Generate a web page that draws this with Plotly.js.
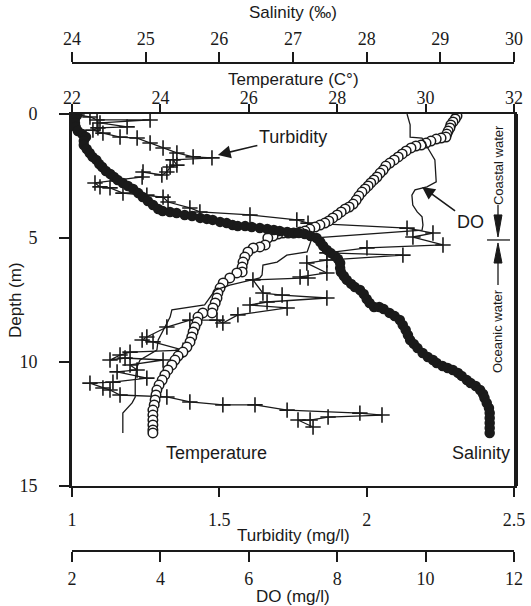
<!DOCTYPE html>
<html>
<head>
<meta charset="utf-8">
<script src="https://cdn.plot.ly/plotly-3.0.1.min.js"></script>
<style>html,body{margin:0;padding:0;background:#fff;}#chart{width:531px;height:606px;}</style>
</head>
<body>
<div id="chart"></div>
<script>
// ---- Temperature (°C) profile ----
const temperature = [30.71,30.67,30.62,30.57,30.55,30.51,30.48,30.46,
  30.35,30.24,30.12,30.01,29.90,29.78,29.67,29.56,29.47,29.38,29.29,29.19,29.10,29.04,28.97,28.90,28.83,28.76,28.70,28.63,28.56,28.49,28.43,28.36,28.27,28.18,28.09,28.00,27.90,27.81,27.72,27.61,27.50,27.38,27.27,27.16,27.02,26.89,26.77,26.66,26.55,26.43,
  26.37,26.25,26.10,25.98,25.91,25.87,25.85,25.85,25.73,25.57,25.42,25.35,25.30,25.28,25.24,25.19,25.17,24.96,24.85,24.83,24.78,24.74,24.71,24.67,24.60,24.51,24.40,24.33,24.26,24.17,24.10,24.04,23.97,23.92,23.90,23.88,23.86,23.83,23.83,23.83,23.83,23.83,23.83];
const depthTemp = [0.08,0.20,0.32,0.44,0.56,0.69,0.81,0.93,
  0.97,1.01,1.09,1.17,1.25,1.29,1.37,1.49,1.61,1.73,1.85,1.98,2.10,2.26,2.38,2.54,2.66,2.78,2.90,3.02,3.15,3.31,3.47,3.63,3.75,3.83,3.95,4.07,4.19,4.31,4.40,4.48,4.56,4.64,4.72,4.76,4.80,4.80,4.80,4.84,4.92,5.00,
  5.28,5.36,5.40,5.56,5.77,5.97,6.17,6.37,6.41,6.61,6.81,7.02,7.22,7.42,7.62,7.82,8.02,8.02,8.19,8.39,8.59,8.79,8.99,9.19,9.40,9.60,9.76,9.92,10.12,10.32,10.52,10.73,10.93,11.13,11.33,11.53,11.73,11.94,12.14,12.34,12.54,12.74,12.86];

// ---- Salinity (‰) profile ----
const salinity = [24.07,24.04,24.04,24.05,24.08,24.14,24.19,24.16,24.16,24.20,24.24,24.28,24.33,24.37,24.41,24.46,24.52,24.57,24.62,24.69,24.76,24.83,24.90,24.96,25.03,25.10,25.17,25.23,25.33,25.42,25.53,25.63,25.74,25.83,25.91,26.01,26.10,26.18,26.25,26.35,26.44,26.55,26.65,26.74,26.82,26.92,27.00,27.08,27.16,27.24,27.32,27.37,27.41,27.46,27.51,27.57,27.61,27.64,27.64,27.65,27.69,27.73,27.79,27.84,27.91,27.96,28.00,28.04,28.10,28.17,28.23,28.31,28.38,28.45,28.49,28.53,28.56,28.59,28.64,28.69,28.76,28.83,28.90,28.95,29.03,29.10,29.17,29.24,29.29,29.36,29.41,29.48,29.54,29.58,29.60,29.63,29.66,29.67,29.67,29.67,29.67,29.67];
const depthSal = [0.04,0.20,0.36,0.52,0.69,0.81,0.93,1.09,1.25,1.41,1.57,1.73,1.85,2.02,2.14,2.30,2.42,2.54,2.66,2.78,2.90,3.02,3.19,3.35,3.51,3.67,3.83,3.91,3.95,3.99,4.07,4.11,4.19,4.23,4.27,4.35,4.40,4.48,4.52,4.52,4.56,4.60,4.64,4.68,4.72,4.76,4.80,4.80,4.84,4.92,5.00,5.16,5.32,5.48,5.60,5.73,5.85,6.01,6.21,6.37,6.53,6.69,6.85,6.98,7.10,7.26,7.46,7.62,7.78,7.78,7.86,8.02,8.15,8.31,8.51,8.71,8.91,9.11,9.27,9.44,9.64,9.80,9.92,10.04,10.16,10.24,10.32,10.44,10.56,10.73,10.85,10.97,11.13,11.29,11.45,11.65,11.85,12.06,12.26,12.46,12.66,12.86];

// ---- Turbidity (mg/l) profile ----
const turbidity = [1.017,1.061,1.085,1.265,1.095,1.187,1.088,1.071,1.105,1.163,1.221,1.265,1.309,1.356,1.411,1.475,1.343,1.356,1.333,1.322,1.305,1.241,1.238,1.078,1.095,1.129,1.173,1.254,1.309,1.326,1.400,1.434,1.604,1.763,1.801,2.137,2.225,2.157,2.259,2.001,1.865,2.123,1.865,1.797,1.865,1.774,1.801,1.614,1.648,1.713,1.865,1.662,1.604,1.730,1.563,1.512,1.492,1.400,1.322,1.254,1.238,1.275,1.377,1.197,1.163,1.129,1.180,1.309,1.197,1.221,1.153,1.254,1.139,1.061,1.105,1.129,1.163,1.322,1.400,1.512,1.621,1.730,1.977,2.052,1.869,1.808,1.767,1.818];
const depthTurb = [0.04,0.12,0.24,0.24,0.36,0.52,0.56,0.65,0.77,0.93,0.97,1.17,1.37,1.57,1.73,1.77,1.85,2.06,2.14,2.34,2.46,2.34,2.54,2.78,2.94,2.98,3.19,3.27,3.35,3.55,3.79,3.95,4.07,4.27,4.40,4.60,4.80,4.96,5.28,5.40,5.60,5.69,5.89,6.01,6.41,6.57,6.61,6.69,7.22,7.30,7.42,7.58,7.70,7.82,8.10,8.43,8.31,8.31,8.59,8.99,9.11,9.19,9.52,9.60,9.72,9.92,9.84,9.92,10.12,10.32,10.40,10.65,10.81,10.85,11.05,11.13,11.33,11.41,11.61,11.73,11.73,11.94,12.06,12.14,12.22,12.34,12.34,12.62];

// ---- Dissolved oxygen (mg/l) profile ----
const dissolvedO2 = [9.58,9.65,9.65,9.92,10.05,10.21,10.24,10.03,9.76,9.69,9.71,9.81,9.92,9.94,9.92,7.43,7.32,6.86,6.64,6.32,6.30,6.25,5.57,5.24,5.00,4.26,4.22,4.06,3.95,3.92,3.54,3.47,3.43,3.43,3.36,3.15,3.15];
const depthDO = [0.00,0.44,0.93,0.97,1.37,1.85,2.74,2.94,3.06,3.27,3.67,3.95,4.15,4.48,4.68,5.00,5.56,5.69,5.97,6.09,6.49,6.61,6.90,7.10,7.70,7.90,8.19,8.71,9.11,9.52,9.92,10.20,10.73,11.41,11.65,12.06,12.86];

// ---- Tick labels ----
const depthTicks = [0, 5, 10, 15];
const turbTicks = [1, 1.5, 2, 2.5];
const turbLabels = ['1', '1.5', '2', '2.5'];
const tempTicks = [22, 24, 26, 28, 30, 32];
const salTicks = [24, 25, 26, 27, 28, 29, 30];
const doTicks = [2, 4, 6, 8, 10, 12];

const INK = '#1a1a1a';
const SERIF = 'Liberation Serif';
const SANS = 'Liberation Sans';
const tickFont = () => ({family: SERIF, size: 18, color: INK});
const titleFont = {family: SANS, size: 17, color: INK};

const traces = [
  {x: dissolvedO2, y: depthDO, xaxis: 'x4', yaxis: 'y', type: 'scatter', mode: 'lines',
   line: {color: INK, width: 1.3}, name: 'DO'},
  {x: turbidity, y: depthTurb, xaxis: 'x', yaxis: 'y', type: 'scatter', mode: 'lines+markers',
   line: {color: INK, width: 1.3},
   marker: {symbol: 'cross-thin', size: 11, line: {color: INK, width: 1.6}}, name: 'Turbidity'},
  {x: salinity, y: depthSal, xaxis: 'x3', yaxis: 'y', type: 'scatter', mode: 'markers',
   marker: {symbol: 'circle', size: 10.5, color: INK}, name: 'Salinity'},
  {x: temperature, y: depthTemp, xaxis: 'x2', yaxis: 'y', type: 'scatter', mode: 'markers',
   marker: {symbol: 'circle', size: 9.5, color: '#fff', line: {color: INK, width: 1.5}}, name: 'Temperature'}
];

const baseX = () => ({showgrid: false, zeroline: false, showline: true, linecolor: INK, linewidth: 2,
  ticks: 'outside', tickcolor: INK, tickwidth: 2, tickfont: tickFont()});

const yDom = [0.1332, 0.8955];
// paper y fraction for a pixel row (paper spans rows 63..551)
const py = p => (551 - p) / 488;

function title(text, x, y, angle) {
  return {xref: 'paper', yref: 'paper', x: x, y: y, xanchor: 'center', yanchor: 'middle',
    text: text, showarrow: false, textangle: angle || 0, font: titleFont};
}

const layout = {
  width: 531, height: 606,
  margin: {l: 72, r: 17, t: 63, b: 55},
  paper_bgcolor: '#fff', plot_bgcolor: '#fff',
  showlegend: false,
  font: {family: SANS, color: INK},
  yaxis: {domain: yDom, range: [15, 0], tickvals: depthTicks, ticks: 'outside', ticklen: 10,
    tickwidth: 2, tickcolor: INK, showline: true, linewidth: 3, linecolor: INK, mirror: true,
    showgrid: false, zeroline: false, tickfont: tickFont(), ticklabelstandoff: 18},
  xaxis: Object.assign(baseX(), {range: [1, 2.5], tickvals: turbTicks, ticktext: turbLabels,
    side: 'bottom', anchor: 'y', ticklen: 9, ticklabelstandoff: 7}),
  xaxis2: Object.assign(baseX(), {range: [22, 32], tickvals: tempTicks, overlaying: 'x',
    side: 'top', anchor: 'y', ticklen: 8, ticklabelstandoff: -7}),
  xaxis3: Object.assign(baseX(), {range: [24, 30], tickvals: salTicks, overlaying: 'x',
    side: 'top', anchor: 'free', position: 1, ticklen: 10, ticklabelstandoff: 0}),
  xaxis4: Object.assign(baseX(), {range: [2, 12], tickvals: doTicks, overlaying: 'x',
    side: 'bottom', anchor: 'free', position: 0, ticklen: 10, ticklabelstandoff: 1}),
  annotations: [
    title('Salinity (‰)', 0.5, py(13)),
    title('Temperature (C°)', 0.5, py(79)),
    title('Turbidity (mg/l)', 0.5, py(535)),
    title('DO (mg/l)', 0.5, py(596)),
    title('Depth (m)', (15 - 72) / 442, py(300), -90),
    {xref: 'x', yref: 'y', x: 1.495, y: 1.65, ax: 75, ay: -18, text: 'Turbidity',
     showarrow: true, arrowhead: 2, arrowsize: 1.6, arrowwidth: 1.6, arrowcolor: INK,
     font: {size: 18, color: INK}},
    {xref: 'x4', yref: 'y', x: 9.92, y: 2.94, ax: 48, ay: 35, text: 'DO',
     showarrow: true, arrowhead: 2, arrowsize: 1.6, arrowwidth: 1.6, arrowcolor: INK,
     font: {size: 18, color: INK}},
    {xref: 'paper', yref: 'y', x: 0.326, y: 13.67, xanchor: 'center', text: 'Temperature',
     showarrow: false, font: {size: 18, color: INK}},
    {xref: 'paper', yref: 'y', x: 0.925, y: 13.67, xanchor: 'center', text: 'Salinity',
     showarrow: false, font: {size: 18, color: INK}},
    {xref: 'paper', yref: 'y', x: 0.9638, y: 2.06, xanchor: 'center', text: 'Coastal water',
     textangle: -90, showarrow: false, font: {size: 13, color: INK}},
    {xref: 'paper', yref: 'y', x: 0.9638, y: 8.75, xanchor: 'center', text: 'Oceanic water',
     textangle: -90, showarrow: false, font: {size: 13, color: INK}}
  ],
  shapes: [
    {type: 'line', xref: 'paper', yref: 'paper', x0: 1.0068, x1: 1.0068, y0: yDom[0], y1: yDom[1],
     line: {color: INK, width: 2}},
    {type: 'line', xref: 'paper', yref: 'y', x0: 0.9638, x1: 0.9638, y0: 3.67, y1: 4.1,
     line: {color: INK, width: 1.3}},
    {type: 'path', xref: 'paper', yref: 'y', path: 'M 0.9548,4.07 L 0.9728,4.07 L 0.9638,4.96 Z',
     fillcolor: INK, line: {color: INK, width: 1}},
    {type: 'line', xref: 'paper', yref: 'y', x0: 0.939, x1: 0.991, y0: 5.08, y1: 5.08,
     line: {color: INK, width: 1.3}},
    {type: 'path', xref: 'paper', yref: 'y', path: 'M 0.9548,6.01 L 0.9728,6.01 L 0.9638,5.20 Z',
     fillcolor: INK, line: {color: INK, width: 1}},
    {type: 'line', xref: 'paper', yref: 'y', x0: 0.9638, x1: 0.9638, y0: 6.0, y1: 6.9,
     line: {color: INK, width: 1.3}}
  ]
};

Plotly.newPlot('chart', traces, layout, {displayModeBar: false, staticPlot: true});
</script>
</body>
</html>
